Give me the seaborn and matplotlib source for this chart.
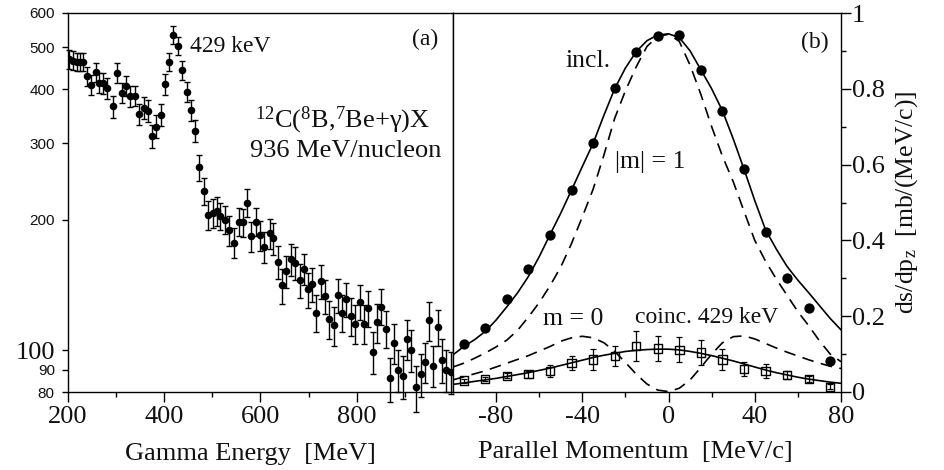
import matplotlib
matplotlib.use("Agg")
import matplotlib.pyplot as plt
import seaborn as sns
from matplotlib.ticker import FixedLocator, NullLocator

# ---------------- panel (a): gamma-energy spectrum ----------------
energy = [202.7, 210.3, 218.6, 225.4, 232.2, 240.5, 247.5, 257.8, 265.2, 273.5,
          281.8, 292.9, 302.4, 311.5, 319.8, 329.3, 338.3, 347.8, 357.5, 365.8,
          374.1, 382.9, 392.6, 400.9, 409.8, 418.9, 428.4, 437.4, 446.9, 456.0,
          464.9, 473.2, 482.9, 491.7, 500.6, 508.9, 516.5, 526.2, 535.1, 544.4,
          554.7, 563.0, 572.3, 580.5, 590.8, 599.1, 607.4, 619.1, 625.9, 635.6,
          643.9, 653.4, 662.5, 671.4, 681.1, 690.6, 698.2, 707.1, 716.2, 725.1,
          733.9, 743.0, 751.9, 760.8, 769.9, 778.7, 788.4, 797.3, 806.2, 815.3,
          824.2, 833.0, 842.1, 851.0, 860.7, 869.6, 877.8, 886.7, 895.8, 905.3,
          913.6, 923.3, 933.0, 941.8, 950.1, 959.0, 968.1, 977.6, 985.8, 994.9]
counts = [469, 466, 463, 463, 463, 429, 410, 438, 414, 413,
          402, 365, 436, 393, 407, 385, 386, 350, 362, 357,
          312, 328, 349, 411, 463, 535, 504, 443, 395, 358,
          321, 264, 233, 205, 207, 209, 204, 200, 189, 177,
          198, 197, 219, 183, 198, 184, 173, 186, 181, 160,
          141, 152, 162, 159, 145, 154, 138, 142, 122, 144,
          133, 118, 114, 134, 122, 131, 120, 115, 129, 115,
          125, 99, 116, 126, 112, 86, 104, 90, 87, 106,
          100, 82, 88, 94, 117, 92, 113, 95, 90, 89]
counts_err = [23, 23, 23, 23, 23, 22, 22, 23, 22, 22,
              22, 21, 23, 21, 22, 21, 21, 20, 21, 20,
              19, 20, 20, 22, 23, 25, 24, 23, 21, 20,
              19, 18, 17, 16, 16, 16, 15, 15, 15, 14,
              15, 15, 16, 15, 15, 15, 14, 15, 15, 14,
              13, 13, 14, 14, 13, 13, 13, 13, 12, 13,
              12, 12, 12, 12, 12, 12, 12, 12, 12, 12,
              12, 11, 12, 12, 11, 10, 11, 10, 10, 11,
              11, 10, 10, 10, 12, 10, 11, 11, 10, 10]

# ---------------- panel (b): parallel momentum ----------------
p_points = [-95, -85, -75, -65, -55, -45, -35, -25, -15, -5,
            5, 15, 25, 35, 45, 55, 65, 75]
incl = [0.126, 0.170, 0.245, 0.324, 0.415, 0.533, 0.656, 0.801, 0.898, 0.939,
        0.942, 0.850, 0.742, 0.588, 0.421, 0.300, 0.222, 0.083]
coinc = [0.030, 0.034, 0.043, 0.047, 0.055, 0.077, 0.086, 0.095, 0.121, 0.115,
         0.111, 0.104, 0.086, 0.060, 0.055, 0.045, 0.034, 0.014]
coinc_err = [0.005, 0.006, 0.007, 0.009, 0.015, 0.019, 0.028, 0.026, 0.040, 0.034,
             0.033, 0.032, 0.028, 0.018, 0.018, 0.010, 0.008, 0.007]

p_curve = [-100, -95, -90, -85, -80, -75, -70, -65, -60, -55, -50, -45, -40,
           -35, -30, -25, -20, -15, -10, -5, 0, 5, 10, 15, 20, 25, 30, 35,
           40, 45, 50, 55, 60, 65, 70, 75, 80]
incl_fit = [0.098, 0.120, 0.138, 0.160, 0.190, 0.225, 0.262, 0.305, 0.357, 0.415,
            0.472, 0.533, 0.595, 0.656, 0.730, 0.800, 0.855, 0.898, 0.927, 0.942,
            0.945, 0.935, 0.900, 0.850, 0.800, 0.742, 0.668, 0.588, 0.505, 0.428,
            0.377, 0.331, 0.295, 0.262, 0.228, 0.194, 0.164]
m1_fit = [0.066, 0.076, 0.089, 0.103, 0.119, 0.137, 0.163, 0.198, 0.236, 0.280,
          0.330, 0.392, 0.462, 0.535, 0.625, 0.722, 0.795, 0.858, 0.912, 0.938,
          0.944, 0.925, 0.862, 0.785, 0.700, 0.622, 0.555, 0.477, 0.400, 0.345,
          0.298, 0.255, 0.212, 0.175, 0.135, 0.100, 0.080]
m0_fit = [0.032, 0.040, 0.048, 0.056, 0.066, 0.076, 0.086, 0.096, 0.108, 0.120,
          0.134, 0.143, 0.147, 0.143, 0.130, 0.107, 0.078, 0.047, 0.021, 0.005,
          0.001, 0.010, 0.032, 0.065, 0.100, 0.130, 0.146, 0.148, 0.140, 0.128,
          0.116, 0.105, 0.095, 0.085, 0.076, 0.068, 0.062]
coinc_fit = [0.020, 0.024, 0.028, 0.032, 0.036, 0.041, 0.046, 0.051, 0.057, 0.063,
             0.070, 0.077, 0.084, 0.091, 0.097, 0.102, 0.107, 0.110, 0.112, 0.113,
             0.113, 0.111, 0.107, 0.102, 0.096, 0.089, 0.082, 0.074, 0.066, 0.058,
             0.051, 0.045, 0.039, 0.034, 0.030, 0.026, 0.023]

left_yticks = [80, 90, 100, 200, 300, 400, 500, 600]
left_yticklabels = ["80", "90", "100", "200", "300", "400", "500", "600"]
right_yticks = [0, 0.2, 0.4, 0.6, 0.8, 1.0]
right_yticklabels = ["0", "0.2", "0.4", "0.6", "0.8", "1"]
right_xticks = [-80, -40, 0, 40, 80]
right_xticklabels = ["-80", "-40", "0", "40", "80"]

sns.set_style("ticks")
plt.rcParams.update({
    "font.family": ["Liberation Serif", "DejaVu Serif"],
    "mathtext.fontset": "custom",
    "mathtext.rm": "Liberation Serif",
    "mathtext.it": "Liberation Serif:italic",
    "axes.edgecolor": "black",
    "axes.linewidth": 1.0,
    "text.color": "#111111",
    "axes.labelcolor": "#111111",
    "xtick.color": "black",
    "ytick.color": "black",
    "xtick.labelcolor": "#111111",
    "ytick.labelcolor": "#111111",
})

W, H = 945, 470
fig = plt.figure(figsize=(W / 100, H / 100), dpi=100)
axa = fig.add_axes([68 / W, 1 - 392 / H, 385 / W, 379 / H])
axb = fig.add_axes([453 / W, 1 - 392 / H, 388 / W, 379 / H])

# ---- panel (a)
axa.errorbar(energy, counts, yerr=counts_err, fmt="none", ecolor="black",
             elinewidth=1.0, capsize=2.2, capthick=1.0, clip_on=False, zorder=2)
sns.scatterplot(x=energy, y=counts, ax=axa, color="black", s=30,
                edgecolor="black", linewidth=0, zorder=3)
axa.set_yscale("log")
axa.set_xlim(200, 1000)
axa.set_ylim(80, 600)
axa.yaxis.set_major_locator(FixedLocator(left_yticks))
axa.yaxis.set_minor_locator(NullLocator())
axa.set_yticklabels(left_yticklabels)
axa.xaxis.set_major_locator(FixedLocator([200, 400, 600, 800]))
axa.xaxis.set_minor_locator(FixedLocator([300, 500, 700, 900]))
axa.tick_params(axis="x", which="major", direction="out", length=7, width=1,
                labelsize=19, pad=3)
axa.tick_params(axis="x", which="minor", direction="out", length=3.5, width=1)
axa.tick_params(axis="y", which="major", direction="out", length=4.5, width=1,
                pad=5)
for lab in axa.get_yticklabels():
    if lab.get_text() == "100":
        lab.set_fontfamily(["Liberation Serif"])
        lab.set_fontsize(19)
    else:
        lab.set_fontfamily(["Liberation Sans"])
        lab.set_fontsize(11)
axa.set_xlabel("Gamma Energy  [MeV]", fontsize=19)
axa.xaxis.label.set_verticalalignment("baseline")
axa.xaxis.set_label_coords(0.475, -0.179)

axa.text(0.317, 0.897, "429 keV", transform=axa.transAxes, fontsize=17,
         ha="left", va="baseline")
axa.text(0.927, 0.931, "(a)", transform=axa.transAxes, fontsize=17,
         ha="center", va="center")
axa.text(0.712, 0.697, r"$^{12}$C($^{8}$B,$^{7}$Be+γ)X", transform=axa.transAxes,
         fontsize=19, ha="center", va="baseline")
axa.text(0.722, 0.620, "936 MeV/nucleon", transform=axa.transAxes,
         fontsize=19, ha="center", va="baseline")

# ---- panel (b)
dash = [7, 4.5]
sns.lineplot(x=p_curve, y=incl_fit, ax=axb, color="black", linewidth=1.2,
             sort=False, zorder=2)
sns.lineplot(x=p_curve, y=m1_fit, ax=axb, color="black", linewidth=1.2,
             sort=False, zorder=2)
axb.lines[-1].set_dashes(dash)
sns.lineplot(x=p_curve, y=m0_fit, ax=axb, color="black", linewidth=1.2,
             sort=False, zorder=2)
axb.lines[-1].set_dashes(dash)
sns.lineplot(x=p_curve, y=coinc_fit, ax=axb, color="black", linewidth=1.2,
             sort=False, zorder=2)

sns.scatterplot(x=p_points, y=incl, ax=axb, color="black", s=55,
                edgecolor="black", linewidth=0, zorder=4)
axb.errorbar(p_points, coinc, yerr=coinc_err, fmt="none", ecolor="black",
             elinewidth=0.9, capsize=2.2, capthick=0.9, zorder=3)
sns.scatterplot(x=p_points, y=coinc, ax=axb, marker="s", s=36,
                facecolor="none", edgecolor="black", linewidth=1.0, zorder=4)

axb.set_xlim(-100, 80)
axb.set_ylim(0, 1)
axb.yaxis.tick_right()
axb.yaxis.set_label_position("right")
axb.yaxis.set_major_locator(FixedLocator(right_yticks))
axb.set_yticklabels(right_yticklabels)
axb.yaxis.set_minor_locator(FixedLocator([0.1, 0.3, 0.5, 0.7, 0.9]))
axb.xaxis.set_major_locator(FixedLocator(right_xticks))
axb.set_xticklabels(right_xticklabels)
axb.xaxis.set_minor_locator(FixedLocator([-60, -20, 20, 60]))
axb.tick_params(axis="both", which="major", direction="out", length=7, width=1,
                labelsize=19, pad=3)
axb.tick_params(axis="y", which="major", pad=1)
axb.tick_params(axis="both", which="minor", direction="out", length=3.5, width=1)
axb.set_xlabel("Parallel Momentum  [MeV/c]", fontsize=19)
axb.xaxis.label.set_verticalalignment("baseline")
axb.xaxis.set_label_coords(0.469, -0.175)
axb.set_ylabel(r"ds/dp$_\mathrm{z}$  [mb/(MeV/c)]", fontsize=18.5)
axb.yaxis.set_label_coords(1.135, 0.5)

axb.text(0.932, 0.922, "(b)", transform=axb.transAxes, fontsize=17,
         ha="center", va="center")
axb.text(0.347, 0.858, "incl.", transform=axb.transAxes, fontsize=18.5,
         ha="center", va="baseline")
axb.text(0.508, 0.591, "|m| = 1", transform=axb.transAxes, fontsize=18.5,
         ha="center", va="baseline")
axb.text(0.310, 0.177, "m = 0", transform=axb.transAxes, fontsize=18.5,
         ha="center", va="baseline")
axb.text(0.654, 0.182, "coinc. 429 keV", transform=axb.transAxes, fontsize=17,
         ha="center", va="baseline")

fig.savefig("out.png", dpi=100, facecolor="white")
